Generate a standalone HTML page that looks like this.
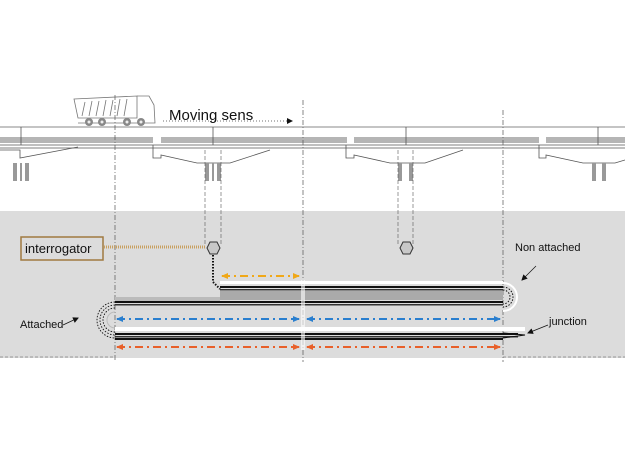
<!DOCTYPE html>
<html><head><style>body{margin:0;background:#fff}svg{display:block}</style></head><body>
<svg width="625" height="450" viewBox="0 0 625 450" xmlns="http://www.w3.org/2000/svg" font-family="Liberation Sans, sans-serif">
<defs>
<marker id="ay" markerUnits="userSpaceOnUse" markerWidth="7" markerHeight="7" refX="6" refY="3.5" orient="auto-start-reverse"><path d="M0,0.5L7,3.5L0,6.5z" fill="#f0a818"/></marker>
<marker id="ab" markerUnits="userSpaceOnUse" markerWidth="7" markerHeight="7" refX="6" refY="3.5" orient="auto-start-reverse"><path d="M0,0.5L7,3.5L0,6.5z" fill="#2a7fcf"/></marker>
<marker id="ao" markerUnits="userSpaceOnUse" markerWidth="7" markerHeight="7" refX="6" refY="3.5" orient="auto-start-reverse"><path d="M0,0.5L7,3.5L0,6.5z" fill="#e8602a"/></marker>
<marker id="ak" markerUnits="userSpaceOnUse" markerWidth="6" markerHeight="6" refX="5" refY="3" orient="auto"><path d="M0,0L6,3L0,6z" fill="#111"/></marker>
</defs>
<rect x="0" y="211" width="625" height="147" fill="#dcdcdc"/>
<line x1="0" y1="357" x2="115" y2="357" stroke="#999" stroke-dasharray="3,2"/>
<line x1="503" y1="357" x2="625" y2="357" stroke="#999" stroke-dasharray="3,2"/>
<rect x="115" y="355" width="388" height="3" fill="#dcdcdc"/>
<line x1="0" y1="127" x2="625" y2="127" stroke="#888"/>
<g fill="#b5b5b5">
<rect x="0" y="137" width="153" height="6"/><rect x="161" y="137" width="186" height="6"/><rect x="354" y="137" width="185" height="6"/><rect x="546" y="137" width="79" height="6"/>
</g>
<g stroke="#555" stroke-width="0.8">
<line x1="0" y1="145" x2="625" y2="145"/><line x1="0" y1="148" x2="625" y2="148"/>
</g>
<g fill="none" stroke="#555" stroke-width="0.8">
<path d="M0,150 L20,150 L20,158 L78,147"/>
<path d="M153,145 L153,158 L161,158 L161,155 L197,163 L230,163 L270,150"/>
<path d="M346,145 L346,158 L354,158 L354,155 L390,163 L425,163 L463,150"/>
<path d="M539,145 L539,158 L546,158 L546,155 L583,163 L615,163 L625,160"/>
<line x1="21" y1="127" x2="21" y2="145"/><line x1="213" y1="127" x2="213" y2="145"/><line x1="406" y1="127" x2="406" y2="145"/><line x1="598" y1="127" x2="598" y2="145"/>
</g>
<g fill="#999"><rect x="13" y="163" width="4" height="18"/><rect x="20" y="163" width="2" height="18"/><rect x="25" y="163" width="4" height="18"/>
<rect x="205" y="163" width="4" height="18"/><rect x="212" y="163" width="2" height="18"/><rect x="217" y="163" width="4" height="18"/>
<rect x="398" y="163" width="4" height="18"/><rect x="409" y="163" width="4" height="18"/>
<rect x="592" y="163" width="4" height="18"/><rect x="602" y="163" width="4" height="18"/></g>
<g fill="none" stroke="#777" stroke-width="0.8">
<path d="M74,99 L137,96 L137,118 L78,118 Z"/>
<path d="M137,96 L149,96 L154,105 L155,123 L78,123"/>
<path d="M85,102 L82,116 M92,101 L89,116 M99,101 L96,116 M106,100 L103,116 M113,100 L110,116 M120,99 L117,116 M127,99 L124,116"/>
</g>
<g fill="#888"><circle cx="89" cy="122" r="4"/><circle cx="102" cy="122" r="4"/><circle cx="127" cy="122" r="4"/><circle cx="141" cy="122" r="4"/></g>
<g fill="#eee"><circle cx="89" cy="122" r="1.5"/><circle cx="102" cy="122" r="1.5"/><circle cx="127" cy="122" r="1.5"/><circle cx="141" cy="122" r="1.5"/></g>
<text x="169" y="120" font-size="15" fill="#111">Moving sens</text>
<line x1="163" y1="121" x2="292" y2="121" stroke="#444" stroke-width="0.7" stroke-dasharray="1,2" marker-end="url(#ak)"/>
<g stroke="#555" stroke-width="0.7" stroke-dasharray="5,2,1,2">
<line x1="115" y1="95" x2="115" y2="362"/><line x1="303" y1="100" x2="303" y2="362"/><line x1="503" y1="110" x2="503" y2="362"/>
</g>
<g stroke="#555" stroke-width="0.6" stroke-dasharray="4,2">
<line x1="205" y1="150" x2="205" y2="245"/><line x1="221" y1="150" x2="221" y2="245"/>
<line x1="398" y1="150" x2="398" y2="245"/><line x1="413" y1="150" x2="413" y2="245"/>
</g>
<rect x="21" y="237" width="82" height="23" fill="#dcdcdc" stroke="#a07a40" stroke-width="1.5"/>
<text x="25" y="253" font-size="13" fill="#111">interrogator</text>
<line x1="104" y1="247" x2="206" y2="247" stroke="#c8a060" stroke-width="3" stroke-dasharray="1,1"/>
<polygon points="207,248 210,242 217,242 220,248 217,254 210,254" fill="#c8c8c8" stroke="#333"/>
<polygon points="400,248 403,242 410,242 413,248 410,254 403,254" fill="#c8c8c8" stroke="#333"/>
<path d="M213,255 L213,282 L220,289" fill="none" stroke="#111" stroke-width="2" stroke-dasharray="1.5,1.5"/>
<rect x="220" y="281" width="283" height="3" fill="#fff"/>
<rect x="220" y="286" width="283" height="2" fill="#111"/><rect x="220" y="289" width="283" height="1.5" fill="#333"/>
<rect x="220" y="291" width="283" height="9" fill="#aaa"/>
<rect x="115" y="301" width="388" height="2" fill="#111"/><rect x="115" y="304" width="388" height="1.5" fill="#333"/>
<rect x="115" y="297" width="105" height="4" fill="#bbb"/>
<path d="M503,283 A14,14 0 0 1 503,311" fill="none" stroke="#fff" stroke-width="2"/>
<path d="M503,287 A10,10 0 0 1 503,307" fill="none" stroke="#111" stroke-dasharray="1.5,1.5"/>
<path d="M503,290 A7,7 0 0 1 503,304" fill="none" stroke="#111" stroke-dasharray="1.5,1.5"/>
<line x1="222" y1="276" x2="299" y2="276" stroke="#f0a818" stroke-width="2" stroke-dasharray="8,4,2,4" marker-start="url(#ay)" marker-end="url(#ay)"/>
<line x1="117" y1="319" x2="299" y2="319" stroke="#2a7fcf" stroke-width="2" stroke-dasharray="8,4,2,4" marker-start="url(#ab)" marker-end="url(#ab)"/>
<line x1="307" y1="319" x2="500" y2="319" stroke="#2a7fcf" stroke-width="2" stroke-dasharray="8,4,2,4" marker-start="url(#ab)" marker-end="url(#ab)"/>
<line x1="117" y1="347" x2="299" y2="347" stroke="#e8602a" stroke-width="2" stroke-dasharray="8,4,2,4" marker-start="url(#ao)" marker-end="url(#ao)"/>
<line x1="307" y1="347" x2="500" y2="347" stroke="#e8602a" stroke-width="2" stroke-dasharray="8,4,2,4" marker-start="url(#ao)" marker-end="url(#ao)"/>
<rect x="115" y="327" width="410" height="4" fill="#fff"/>
<rect x="115" y="333" width="403" height="2" fill="#111"/><rect x="115" y="336" width="403" height="1.5" fill="#333"/>
<rect x="115" y="338" width="388" height="2" fill="#111"/>
<path d="M503,333 L525,335 L503,338" fill="none" stroke="#111"/>
<g fill="none" stroke="#111" stroke-dasharray="1.5,1.5" stroke-width="0.9">
<path d="M115,302 A18,18 0 0 0 115,338"/><path d="M115,305 A15,15 0 0 0 115,335"/><path d="M115,308 A12,12 0 0 0 115,332"/>
</g>
<path d="M115,312 A8,8 0 0 0 115,328" fill="none" stroke="#bbb"/>
<rect x="301" y="280" width="4" height="70" fill="#fff" opacity="0.6"/>
<text x="20" y="328" font-size="11" fill="#111">Attached</text>
<line x1="63" y1="325" x2="78" y2="318" stroke="#111" stroke-width="0.7" marker-end="url(#ak)"/>
<text x="515" y="251" font-size="11" fill="#111">Non attached</text>
<line x1="536" y1="266" x2="522" y2="280" stroke="#111" stroke-width="0.7" marker-end="url(#ak)"/>
<text x="549" y="325" font-size="11" fill="#111">junction</text>
<line x1="548" y1="325" x2="528" y2="333" stroke="#111" stroke-width="0.7" marker-end="url(#ak)"/>
</svg>
</body></html>
